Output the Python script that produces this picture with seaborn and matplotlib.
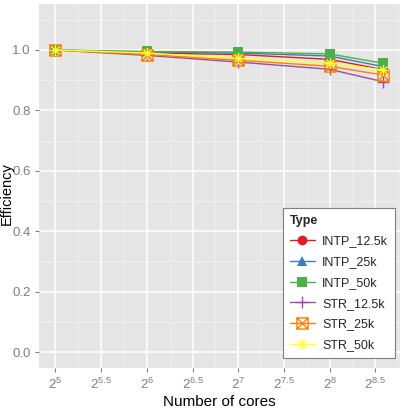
import numpy as np
import pandas as pd
import matplotlib
matplotlib.use('Agg')
import matplotlib.pyplot as plt
from matplotlib.path import Path
from matplotlib.ticker import FixedLocator, FixedFormatter, NullFormatter
import seaborn as sns

# data
cores = [32, 64, 128, 256, 384]
types = ['INTP_12.5k', 'INTP_25k', 'INTP_50k', 'STR_12.5k', 'STR_25k', 'STR_50k']
intp_12 = [1.0, 0.990, 0.985, 0.969, 0.935]
intp_25 = [1.0, 0.993, 0.990, 0.980, 0.945]
intp_50 = [1.0, 0.995, 0.993, 0.987, 0.956]
str_12 = [1.0, 0.982, 0.960, 0.936, 0.895]
str_25 = [1.0, 0.985, 0.966, 0.946, 0.917]
str_50 = [1.0, 0.990, 0.972, 0.958, 0.934]

series = [intp_12, intp_25, intp_50, str_12, str_25, str_50]
df = pd.DataFrame({
    'cores': np.tile(cores, len(types)),
    'Efficiency': np.concatenate(series),
    'Type': np.repeat(types, len(cores)),
})

sns.set_theme(style='darkgrid')
plt.rcParams['font.family'] = ['Liberation Sans', 'DejaVu Sans']
plt.rcParams['mathtext.fontset'] = 'custom'
plt.rcParams['mathtext.rm'] = 'Liberation Sans'
plt.rcParams['mathtext.it'] = 'Liberation Sans'

colors = ['#E41A1C', '#377EB8', '#4DAF4A', '#984EA3', '#FF7F00', '#FFFF33']
palette = dict(zip(types, colors))

# boxed x marker (ggplot shape 7)
boxx = Path([(-1, -1), (1, -1), (1, 1), (-1, 1), (-1, -1), (-1, -1), (1, 1), (-1, 1), (1, -1)],
            [Path.MOVETO, Path.LINETO, Path.LINETO, Path.LINETO, Path.CLOSEPOLY,
             Path.MOVETO, Path.LINETO, Path.MOVETO, Path.LINETO])
# asterisk (ggplot shape 8)
ast = Path([(-1, 0), (1, 0), (0, -1), (0, 1), (-0.7, -0.7), (0.7, 0.7), (-0.7, 0.7), (0.7, -0.7)],
           [Path.MOVETO, Path.LINETO, Path.MOVETO, Path.LINETO,
            Path.MOVETO, Path.LINETO, Path.MOVETO, Path.LINETO])
markers = dict(zip(types, ['o', '^', 's', '+', boxx, ast]))

fig = plt.figure(figsize=(4.02, 4.08), dpi=100)
ax = fig.add_axes([0.097, 0.098, 0.898, 0.892])
ax.set_facecolor('#E5E5E5')

for t in types:
    sub = df[df['Type'] == t]
    m = markers[t]
    filled = t.startswith('INTP')
    sns.lineplot(data=sub, x='cores', y='Efficiency', color=palette[t], ax=ax,
                 marker=m, markersize=7 if filled else 8,
                 markeredgewidth=0 if filled else 1.0,
                 markeredgecolor=palette[t],
                 markerfacecolor=palette[t] if filled else 'none',
                 linewidth=1.0, label=t)

ax.set_xscale('log', base=2)
ax.set_xlim(2 ** 4.82, 2 ** 8.77)
ax.set_ylim(-0.053, 1.152)

xt = [5, 5.5, 6, 6.5, 7, 7.5, 8, 8.5]
ax.xaxis.set_major_locator(FixedLocator([2 ** v for v in xt]))
ax.xaxis.set_major_formatter(FixedFormatter(['$2^{%g}$' % v for v in xt]))
ax.xaxis.set_minor_locator(FixedLocator([2 ** (v + 0.25) for v in xt]))
ax.xaxis.set_minor_formatter(NullFormatter())
ax.set_yticks([0.0, 0.2, 0.4, 0.6, 0.8, 1.0])
ax.yaxis.set_minor_locator(FixedLocator([0.1, 0.3, 0.5, 0.7, 0.9, 1.1]))
ax.set_yticklabels(['0.0', '0.2', '0.4', '0.6', '0.8', '1.0'])

ax.grid(which='major', color='white', linewidth=1.1)
ax.grid(which='minor', color='#F2F2F2', linewidth=0.5)
ax.tick_params(which='major', length=3, color='#7F7F7F', labelcolor='#7F7F7F',
               labelsize=9.5, width=0.8, bottom=True, left=True, pad=3)
ax.tick_params(which='minor', length=0)
for s in ax.spines.values():
    s.set_visible(False)

ax.set_xlabel('Number of cores', fontsize=11, color='black')
ax.set_ylabel('Efficiency', fontsize=10.5, color='black')
ax.xaxis.set_label_coords(0.5, -0.075)
ax.yaxis.set_label_coords(-0.0705, 0.48)

leg = ax.legend(title='Type', loc='lower right', bbox_to_anchor=(0.986, 0.027),
                borderaxespad=0, fontsize=9,
                title_fontproperties={'weight': 'bold', 'size': 9},
                frameon=True, fancybox=False, edgecolor='#7F7F7F', facecolor='white',
                framealpha=1, handlelength=2.0, borderpad=0.55, labelspacing=0.7,
                handletextpad=0.6)
leg._legend_box.align = 'left'
leg.get_frame().set_linewidth(0.8)

fig.savefig('out.png', dpi=100)
